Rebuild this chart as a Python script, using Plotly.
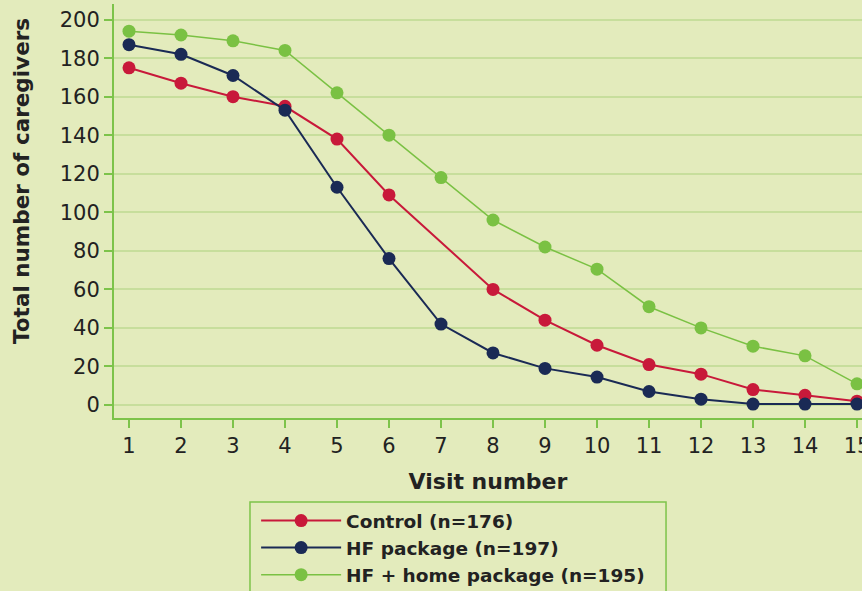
import plotly.graph_objects as go

visits = list(range(1, 16))
control = [175, 167, 160, 155, 138, 109, None, 60, 44, 31, 21, 16, 8, 5, 2]
hf_package = [187, 182, 171, 153, 113, 76, 42, 27, 19, 14.5, 7, 3, 0.5, 0.5, 0.5]
hf_home = [194, 192, 189, 184, 162, 140, 118, 96, 82, 70.5, 51, 40, 30.5, 25.5, 11]

names = ["Control (n=176)", "HF package (n=197)", "HF + home package (n=195)"]
colors = ["#C8193A", "#1A2A55", "#7AC143"]
widths = [2, 2, 1.5]

FONT = "DejaVu Sans"
BG = "#E3EBBC"
AX = "#7DC34A"

fig = go.Figure()
for vals, name, col, w in zip([control, hf_package, hf_home], names, colors, widths):
    fig.add_trace(go.Scatter(
        x=visits, y=vals, name=name, mode="lines+markers", connectgaps=True,
        cliponaxis=False,
        line=dict(color=col, width=w),
        marker=dict(color=col, size=13),
    ))

fig.update_layout(
    width=862, height=591,
    paper_bgcolor=BG, plot_bgcolor=BG,
    margin=dict(l=114, r=0, t=4, b=173, autoexpand=False),
    font=dict(family=FONT, color="#222222"),
    showlegend=True,
    legend=dict(
        x=0.19, y=-0.203, xanchor="left", yanchor="top",
        bgcolor="rgba(0,0,0,0)", borderwidth=0,
        font=dict(family=FONT, size=18.5, color="#222222", weight="bold"),
        itemwidth=80, tracegroupgap=0,
    ),
    shapes=[dict(
        type="rect", xref="paper", yref="paper",
        x0=0.1818, x1=0.738, y0=-0.2029, y1=-0.46,
        line=dict(color=AX, width=1.5), fillcolor="rgba(0,0,0,0)",
    )],
    annotations=[dict(
        text="Total number of caregivers", textangle=-90,
        xref="paper", yref="paper", x=-0.123, y=0.5725,
        xanchor="center", yanchor="middle", showarrow=False,
        font=dict(size=21.5, family=FONT, weight="bold", color="#222222"),
    )],
)
fig.update_xaxes(
    range=[0.7115, 15.096], tickmode="array", tickvals=visits,
    ticktext=[str(v) for v in visits],
    showgrid=False, zeroline=False,
    showline=True, linecolor=AX, linewidth=2,
    ticks="outside", tickcolor=AX, ticklen=8, tickwidth=2,
    ticklabeloverflow="allow",
    tickfont=dict(size=21, family=FONT, color="#222222"),
    title=dict(text="Visit number", font=dict(size=22, family=FONT, weight="bold", color="#222222"), standoff=16),
)
fig.update_yaxes(
    range=[-6.75, 208.1], tickmode="array", tickvals=list(range(0, 201, 20)),
    showgrid=True, gridcolor="#C7DE9C", gridwidth=1.5, zeroline=False,
    showline=True, linecolor=AX, linewidth=2,
    ticks="outside", tickcolor=AX, ticklen=8, tickwidth=2,
    tickfont=dict(size=21, family=FONT, color="#222222"),
)

fig.write_html(
    "out.html",
    config={"displayModeBar": False},
    post_script="document.body.style.margin='0';document.body.style.padding='0';document.body.style.background='#E3EBBC';",
)
